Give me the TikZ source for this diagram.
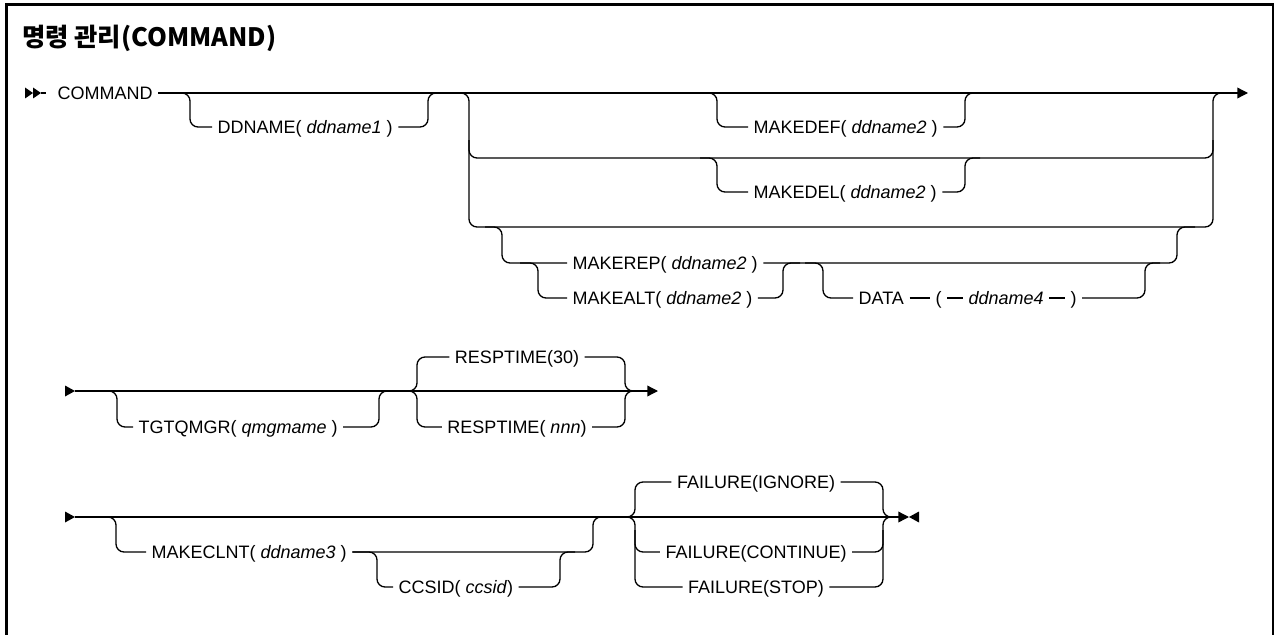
\documentclass[tikz,border=0pt]{standalone}
\usepackage{fontspec}
\setmainfont{Liberation Sans}
\newfontfamily\krfont{Noto Sans CJK KR}
\usetikzlibrary{arrows.meta}

\tikzset{
  rail/.style={line width=1pt, rounded corners=6pt},
  kw/.style={inner xsep=4pt, inner ysep=0pt, text height=11pt, text depth=1.5pt},
  tip/.style={-{Triangle[length=8pt,width=8pt]}},
}
\newcommand{\var}[1]{\textit{#1}}

\begin{document}
\begin{tikzpicture}[x=0.75pt,y=-0.75pt,font=\fontsize{13.5}{16}\selectfont]
  \useasboundingbox (0,0) rectangle (1274,635);
  \draw[line width=2.25pt] (6,640) -- (6,5) -- (1273,5) -- (1273,640);
  \node[anchor=west, inner sep=0pt, font=\krfont\bfseries\fontsize{19}{22}\selectfont] (title) at (22,38) {명령 관리(COMMAND)};

  % first line
  \fill (25,87.5) -- (33,93) -- (25,98.5) -- cycle;
  \fill (33,87.5) -- (41,93) -- (33,98.5) -- cycle;
  \coordinate (s1) at (41,93);
  \node[kw, anchor=west] (cmd) at (52,93) {COMMAND};
  \draw[rail] (s1) -- (46,93);
  \draw[rail, tip] (cmd.east) -- (1248,93);

  \node[kw, anchor=west] (ddn) at (212,127) {DDNAME( \var{ddname1} )};
  \draw[rail] (cmd.east) -| (190,127) -- (ddn.west);
  \draw[rail] (ddn.east) -| (428,93) -- (450,93);

  \draw[rail] (440,93) -| (469,227) -| (1213,93) -- (1230,93);
  \draw[rail] (469,140) |- (1213,158) -- (1213,140);

  \node[kw, anchor=west] (mdef) at (748,127) {MAKEDEF( \var{ddname2} )};
  \draw[rail] (700,93) -| (717,127) -- (mdef.west);
  \draw[rail] (mdef.east) -| (965,93) -- (980,93);
  \node[kw, anchor=west] (mdel) at (748,192) {MAKEDEL( \var{ddname2} )};
  \draw[rail] (700,158) -| (717,192) -- (mdel.west);
  \draw[rail] (mdel.east) -| (965,158) -- (980,158);

  \node[kw, anchor=west] (mrep) at (567,263) {MAKEREP( \var{ddname2} )};
  \node[kw, anchor=west] (malt) at (567,298) {MAKEALT( \var{ddname2} )};
  \draw[rail] (485,227) -| (502,263) -- (mrep.west);
  \draw[rail] (520,263) -| (538,298) -- (malt.west);
  \draw[rail] (malt.east) -| (783,263) -- (800,263);
  \draw[rail] (mrep.east) -| (1177,227) -- (1195,227);

  \node[kw, anchor=west] (data) at (853,298) {DATA};
  \node[kw, anchor=west] (lpar) at (930,298) {(};
  \node[kw, anchor=west] (dd4) at (963,298) {\var{ddname4}};
  \node[kw, anchor=west] (rpar) at (1065,298) {)};
  \draw[rail] (805,263) -| (823,298) -- (data.west);
  \draw[rail] (data.east) -- (lpar.west);
  \draw[rail] (lpar.east) -- (dd4.west);
  \draw[rail] (dd4.east) -- (rpar.west);
  \draw[rail] (rpar.east) -| (1145,263) -- (1160,263);

  % second line
  \fill (65,385.5) -- (75,391) -- (65,396.5) -- cycle;
  \coordinate (s2) at (75,391);
  \draw[rail, tip] (s2) -- (658,391);
  \node[kw, anchor=west] (tgt) at (133,427) {TGTQMGR( \var{qmgmame} )};
  \draw[rail] (s2) -| (117,427) -- (tgt.west);
  \draw[rail] (tgt.east) -| (379,391) -- (395,391);
  \node[kw] (rt30) at (517,357) {RESPTIME(30)};
  \node[kw] (rtn) at (517,427) {RESPTIME( \var{nnn})};
  \draw[rail] (400,391) -| (417,357) -- (rt30.west);
  \draw[rail] (400,391) -| (417,427) -- (rtn.west);
  \draw[rail] (rt30.east) -| (625,391) -- (640,391);
  \draw[rail] (rtn.east) -| (625,391) -- (640,391);

  % third line
  \fill (65,511.5) -- (75,517) -- (65,522.5) -- cycle;
  \coordinate (s3) at (75,517);
  \draw[rail, tip] (s3) -- (909,517);
  \fill (919,511.5) -- (909,517) -- (919,522.5) -- cycle;
  \node[kw, anchor=west] (clnt) at (146,552) {MAKECLNT( \var{ddname3} )};
  \draw[rail] (s3) -| (116,552) -- (clnt.west);
  \draw[rail] (clnt.east) -| (593,517) -- (610,517);
  \node[kw, anchor=west] (ccs) at (393,587) {CCSID( \var{ccsid})};
  \draw[rail] (clnt.east) -| (377,587) -- (ccs.west);
  \draw[rail] (ccs.east) -| (560,552) -- (575,552);

  \node[kw] (fign) at (756,482) {FAILURE(IGNORE)};
  \node[kw] (fcont) at (756,552) {FAILURE(CONTINUE)};
  \node[kw] (fstop) at (756,587) {FAILURE(STOP)};
  \draw[rail] (615,517) -| (635,482) -- (fign.west);
  \draw[rail] (615,517) -| (635,587) -- (fstop.west);
  \draw[rail] (635,530) |- (fcont.west);
  \draw[rail] (fign.east) -| (883,517) -- (898,517);
  \draw[rail] (fstop.east) -| (883,517) -- (898,517);
  \draw[rail] (fcont.east) -| (883,530);
\end{tikzpicture}
\end{document}
